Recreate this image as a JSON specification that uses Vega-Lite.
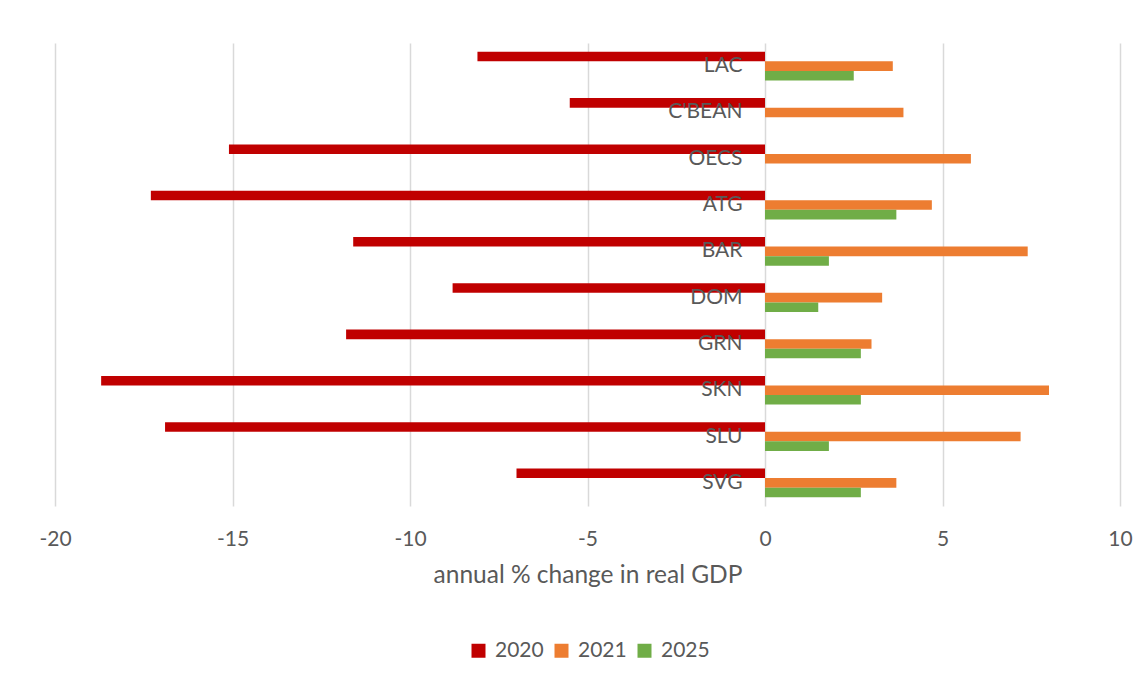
{
  "$schema": "https://vega.github.io/schema/vega-lite/v6.json",
  "autosize": {"type": "none"},
  "width": 1065,
  "height": 463,
  "padding": {"left": 55, "top": 43, "right": 28, "bottom": 171},
  "background": "white",
  "config": {
    "view": {"stroke": null},
    "font": "Lato",
    "axis": {"labelFont": "Lato", "titleFont": "Lato"},
    "legend": {"labelFont": "Lato"}
  },
  "data": {
    "values": [
      {"region": "LAC", "year": "2020", "value": -8.1},
      {"region": "LAC", "year": "2021", "value": 3.6},
      {"region": "LAC", "year": "2025", "value": 2.5},
      {"region": "C'BEAN", "year": "2020", "value": -5.5},
      {"region": "C'BEAN", "year": "2021", "value": 3.9},
      {"region": "OECS", "year": "2020", "value": -15.1},
      {"region": "OECS", "year": "2021", "value": 5.8},
      {"region": "ATG", "year": "2020", "value": -17.3},
      {"region": "ATG", "year": "2021", "value": 4.7},
      {"region": "ATG", "year": "2025", "value": 3.7},
      {"region": "BAR", "year": "2020", "value": -11.6},
      {"region": "BAR", "year": "2021", "value": 7.4},
      {"region": "BAR", "year": "2025", "value": 1.8},
      {"region": "DOM", "year": "2020", "value": -8.8},
      {"region": "DOM", "year": "2021", "value": 3.3},
      {"region": "DOM", "year": "2025", "value": 1.5},
      {"region": "GRN", "year": "2020", "value": -11.8},
      {"region": "GRN", "year": "2021", "value": 3.0},
      {"region": "GRN", "year": "2025", "value": 2.7},
      {"region": "SKN", "year": "2020", "value": -18.7},
      {"region": "SKN", "year": "2021", "value": 8.0},
      {"region": "SKN", "year": "2025", "value": 2.7},
      {"region": "SLU", "year": "2020", "value": -16.9},
      {"region": "SLU", "year": "2021", "value": 7.2},
      {"region": "SLU", "year": "2025", "value": 1.8},
      {"region": "SVG", "year": "2020", "value": -7.0},
      {"region": "SVG", "year": "2021", "value": 3.7},
      {"region": "SVG", "year": "2025", "value": 2.7}
    ]
  },
  "mark": {"type": "bar"},
  "encoding": {
    "y": {
      "field": "region",
      "type": "nominal",
      "sort": ["LAC", "C'BEAN", "OECS", "ATG", "BAR", "DOM", "GRN", "SKN", "SLU", "SVG"],
      "scale": {"paddingInner": 0.38, "paddingOuter": 0.19},
      "axis": {
        "title": null,
        "offset": -710,
        "domain": false,
        "ticks": false,
        "grid": false,
        "labelPadding": 23,
        "labelFontSize": 21,
        "labelColor": "#595959",
        "zindex": 1
      }
    },
    "yOffset": {
      "field": "year",
      "type": "nominal",
      "scale": {"domain": ["2020", "2021", "2025"], "paddingInner": 0, "paddingOuter": 0}
    },
    "x": {
      "field": "value",
      "type": "quantitative",
      "scale": {"domain": [-20, 10], "nice": false},
      "axis": {
        "title": "annual % change in real GDP",
        "values": [-20, -15, -10, -5, 0, 5, 10],
        "labelExpr": "toString(datum.value)",
        "labelFlush": false,
        "labelOverlap": false,
        "domain": false,
        "ticks": false,
        "grid": true,
        "gridColor": "#d9d9d9",
        "gridWidth": 1.5,
        "labelPadding": 22,
        "labelFontSize": 21,
        "labelColor": "#595959",
        "titleFontSize": 24.5,
        "titleFontWeight": "normal",
        "titleColor": "#595959",
        "titlePadding": 14
      }
    },
    "color": {
      "field": "year",
      "type": "nominal",
      "scale": {"domain": ["2020", "2021", "2025"], "range": ["#C00000", "#ED7D31", "#70AD47"]},
      "legend": {
        "title": null,
        "orient": "none",
        "direction": "horizontal",
        "legendX": 413,
        "legendY": 597,
        "padding": 0,
        "symbolType": "square",
        "symbolSize": 196,
        "symbolStrokeWidth": 0,
        "labelFontSize": 21,
        "labelColor": "#595959",
        "labelOffset": 6,
        "columnPadding": 7
      }
    }
  }
}
